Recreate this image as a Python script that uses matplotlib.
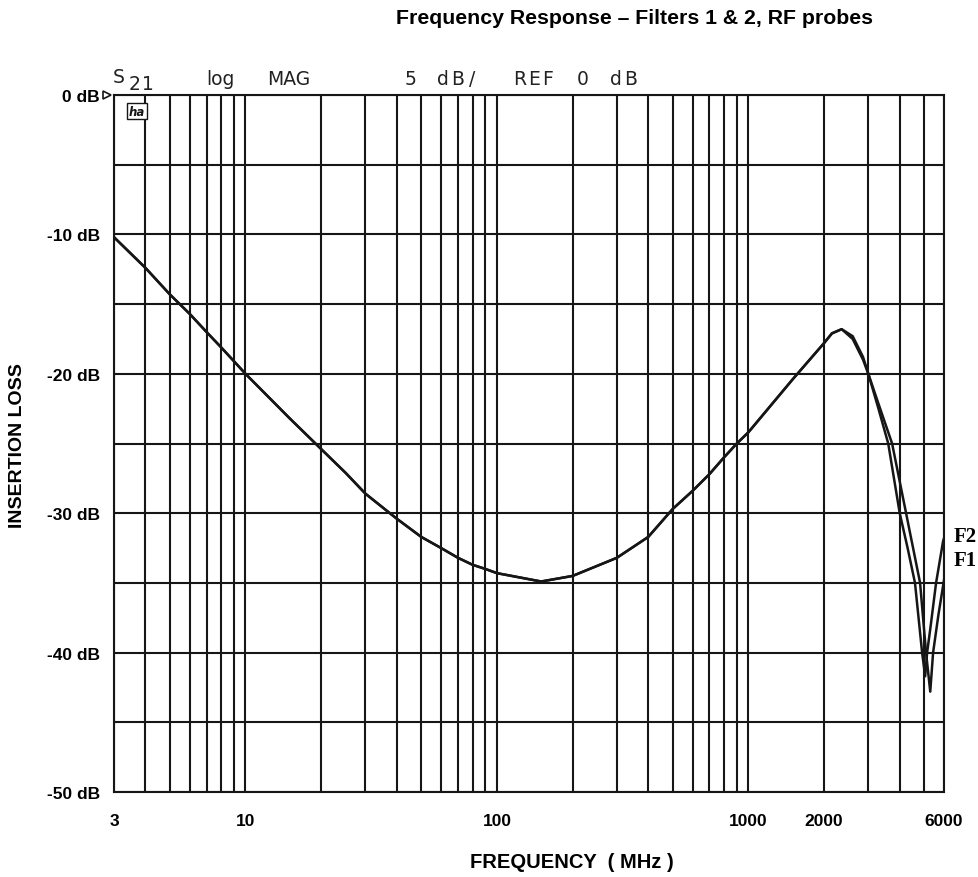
import numpy as np
import matplotlib
matplotlib.use('Agg')
import matplotlib.pyplot as plt

# shared part of both traces (MHz, dB)
common_freq = [3, 4, 5, 6, 7, 8, 9, 10, 15, 20, 25, 30, 40, 50, 60, 70, 80, 90,
               100, 150, 200, 300, 400, 500, 600, 700, 800, 900, 1000, 1500,
               2000, 2150, 2350]
common_loss = [-10.2, -12.4, -14.3, -15.7, -17.0, -18.1, -19.1, -20.0, -23.2,
               -25.4, -27.1, -28.6, -30.4, -31.7, -32.5, -33.2, -33.7, -34.0,
               -34.3, -34.9, -34.5, -33.2, -31.7, -29.7, -28.4, -27.2, -26.0,
               -25.0, -24.2, -20.4, -17.8, -17.1, -16.8]

# high band, where the two filters split
f1_freq = [2600, 2860, 3000, 3300, 3730, 4240, 4820, 5090, 5290, 5430, 5700, 6000]
f1_loss = [-17.3, -18.8, -20.0, -22.2, -25.0, -30.0, -35.0, -40.0, -42.8, -40.0, -37.3, -34.8]
f2_freq = [2600, 2860, 3000, 3280, 3600, 4000, 4300, 4600, 4910, 5050, 5140, 5300,
           5580, 5800, 5950, 6000]
f2_loss = [-17.5, -19.0, -20.0, -22.4, -25.0, -30.0, -32.5, -35.0, -40.0, -41.7,
           -40.0, -38.2, -35.0, -33.2, -32.0, -31.8]

grid_freq = [3, 4, 5, 6, 7, 8, 9, 10, 20, 30, 40, 50, 60, 70, 80, 90, 100, 200,
             300, 400, 500, 600, 700, 800, 900, 1000, 2000, 3000, 4000, 5000, 6000]
labelled_freq = [3, 10, 100, 1000, 2000, 6000]
db_levels = list(range(-50, 1, 5))

# analyzer header words: text, left px, right px, baseline px
header_words = [('S', 113, 125, 83), ('21', 128, 155, 90), ('log', 206, 237, 85),
                ('MAG', 267, 310, 85), ('5', 405, 417, 85), ('dB/', 435, 480, 85),
                ('REF', 513, 555, 85), ('0', 577, 587, 85), ('dB', 608, 638, 85)]

W, H = 979, 878
fig = plt.figure(figsize=(W / 100, H / 100), dpi=100)
ax = fig.add_axes([114 / W, 85 / H, 830 / W, 697 / H])

ink = '#161616'

for f_hi, l_hi in [(f1_freq, f1_loss), (f2_freq, f2_loss)]:
    ax.plot(common_freq + f_hi, common_loss + l_hi, color=ink, lw=1.8,
            solid_joinstyle='round')

ax.set_xscale('log')
ax.set_xlim(3, 6000)
ax.set_ylim(-50, 0)

ax.minorticks_off()
ax.set_xticks(grid_freq, labels=[str(f) if f in labelled_freq else '' for f in grid_freq])
ax.set_yticks(db_levels, labels=[f'{d} dB' if d % 10 == 0 else '' for d in db_levels])
ax.grid(True, color=ink, lw=1.5)
ax.tick_params(length=0)
ax.tick_params(axis='x', pad=15)
ax.tick_params(axis='y', pad=10)
for lab in ax.get_xticklabels() + ax.get_yticklabels():
    lab.set_fontfamily('Liberation Sans')
    lab.set_fontweight('bold')
    lab.set_fontsize(12.5)
for sp in ax.spines.values():
    sp.set_color(ink)
    sp.set_linewidth(1.5)

# reference marker at 0 dB and small annotation box
ax.plot([-0.009], [0], marker='>', ms=6, mfc='white', mec=ink, mew=1.2,
        transform=ax.get_yaxis_transform(), clip_on=False)
ax.text(0.0277, 0.977, 'ha', transform=ax.transAxes, fontsize=8.5, style='italic',
        fontweight='bold', ha='center', va='center', color=ink,
        bbox=dict(boxstyle='square,pad=0.15', fc='white', ec=ink, lw=1))

# plotter style header; wide words get their letters spread out
hdr = dict(family='DejaVu Sans', fontsize=13.5, color='#222222', va='baseline')
for word, x0, x1, base in header_words:
    if word.islower() or len(word) == 1 or word == 'MAG':
        fig.text(x0 / W, 1 - base / H, word, ha='left', **hdr)
        continue
    step = (x1 - x0) / len(word)
    for i, ch in enumerate(word):
        fig.text((x0 + (i + 0.5) * step) / W, 1 - base / H, ch, ha='center', **hdr)

fig.text(635 / W, 1 - 18 / H, 'Frequency Response \u2013 Filters 1 & 2, RF probes',
         family='Liberation Sans', fontweight='bold', fontsize=15.3, ha='center', va='center')
fig.text(18 / W, 1 - 446 / H, 'INSERTION LOSS', family='Liberation Sans',
         fontweight='bold', fontsize=14, rotation=90, ha='center', va='center')
fig.text(674 / W, 1 - 863 / H, 'FREQUENCY  ( MHz )', family='Liberation Sans',
         fontweight='bold', fontsize=14.5, ha='right', va='center')

fig.text(954 / W, 1 - 537 / H, 'F2', family='Liberation Serif', fontweight='bold',
         fontsize=15, ha='left', va='center')
fig.text(954 / W, 1 - 561 / H, 'F1', family='Liberation Serif', fontweight='bold',
         fontsize=15, ha='left', va='center')

fig.savefig('out.png', dpi=100, facecolor='white')
